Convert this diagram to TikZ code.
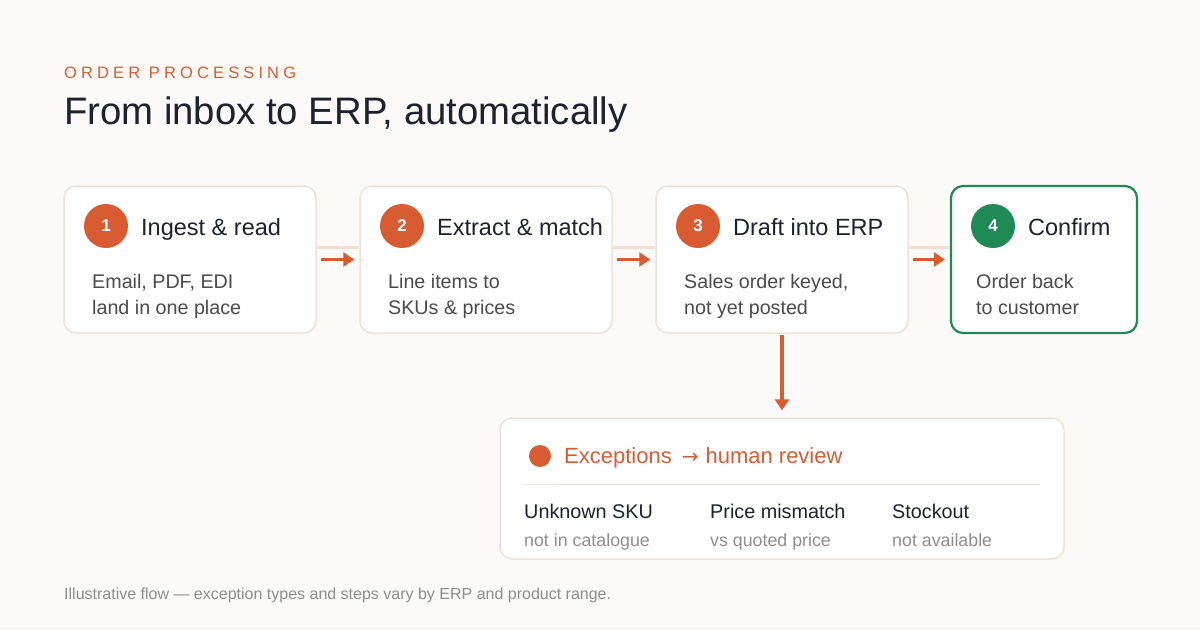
\documentclass[tikz,border=0pt]{standalone}
\usepackage{fontspec}
\setmainfont{Liberation Sans}
\newfontfamily\espacada[LetterSpace=25]{Liberation Sans}
\newfontfamily\setas{DejaVu Sans}
\usetikzlibrary{arrows.meta}

\definecolor{fundo}{HTML}{FCFAF8}
\definecolor{borda}{HTML}{F0E2D7}
\definecolor{pessego}{HTML}{F3DFD2}
\definecolor{laranja}{HTML}{D95B32}
\definecolor{verde}{HTML}{1F8A55}
\definecolor{escuro}{HTML}{1D2130}
\definecolor{cinza}{HTML}{4B4B4B}
\definecolor{claro}{HTML}{8E8E8E}

\begin{document}
\begin{tikzpicture}[x=1pt,y=-1pt]

    % Fundo e tamanho da figura
    \fill[fundo] (0,0) rectangle (1200,630);
    \useasboundingbox (0,0) rectangle (1200,630);

    % Altura das caixas e centro vertical da fileira
    \def\hcx{147pt}
    \def\ycx{259.5}

    % Estilos
    \tikzstyle{caixa} = [
      draw, fill=white, rectangle, rounded corners=12pt,
      minimum height=\hcx, inner sep=0pt
    ];
    \tikzstyle{numero} = [circle, minimum size=44pt, inner sep=0pt,
      text=white, font=\bfseries\fontsize{17}{20}\selectfont];
    \tikzstyle{titulo} = [anchor=base west, inner sep=0pt, text=escuro,
      font=\fontsize{23.5}{28}\selectfont];
    \tikzstyle{texto} = [anchor=base west, inner sep=0pt, text=cinza,
      font=\fontsize{19.7}{23}\selectfont];
    \tikzstyle{trilho} = [draw=pessego, line width=3pt];
    \tikzstyle{seta} = [draw=laranja, line width=3.5pt,
      -{Triangle[length=11pt,width=14pt]}];

    % Cabecalho
    \node[anchor=base west, inner sep=0pt, text=laranja,
      font=\espacada\fontsize{16.5}{20}\selectfont] (rotulo) at (64,78) {ORDER PROCESSING};
    \node[anchor=base west, inner sep=0pt, text=escuro,
      font=\fontsize{38.3}{44}\selectfont] (manchete) at (64,124) {From inbox to ERP, automatically};

    % Caixas das etapas (numero, titulo e duas linhas de texto)
    \foreach \n/\x/\w/\cor/\borda/\esp/\dx/\tit/\la/\lb in {
      1/64/252/laranja/borda/1.5/28/{Ingest \& read}/{Email, PDF, EDI}/{land in one place},
      2/360/252/laranja/borda/1.5/28/{Extract \& match}/{Line items to}/{SKUs \& prices},
      3/656/252/laranja/borda/1.5/28/{Draft into ERP}/{Sales order keyed,}/{not yet posted},
      4/951/186/verde/verde/2.2/25/{Confirm}/{Order back}/{to customer}}
    {
      \node[caixa, draw=\borda, line width=\esp pt, minimum width=\w pt] (c\n) at (\x+\w/2,\ycx) {};
      \node[numero, fill=\cor] (n\n) at (\x+42,226) {\n};
      \node[titulo] (t\n) at (\x+77,235) {\tit};
      \node[texto] (a\n) at (\x+\dx,288) {\la};
      \node[texto] (b\n) at (\x+\dx,314) {\lb};
    }

    % Trilho e setas entre as etapas
    \foreach \i/\j in {1/2,2/3,3/4}
    {
      \draw[trilho] ([yshift=12.5pt]c\i.east) -- ([yshift=12.5pt]c\j.west);
      \draw[seta] ([xshift=4pt]c\i.east) -- ([xshift=-5pt]c\j.west);
    }

    % Caixa de excecoes
    \node[caixa, draw=borda, line width=1.5pt, minimum width=564pt, minimum height=141pt] (ex) at (782,488.5) {};
    \node[circle, fill=laranja, minimum size=22pt, inner sep=0pt] (ponto) at (540,456) {};
    \node[titulo, text=laranja, font=\fontsize{22}{26}\selectfont] (extit) at (564,463)
      {Exceptions\hspace{10pt}{\setas\fontsize{20}{24}\selectfont →}\hspace{7pt}human review};

    % Linha separadora
    \coordinate (s1) at (524,484);
    \coordinate (s2) at (1040,484);
    \draw[borda, line width=1pt] (s1) -- (s2);

    % Tipos de excecao
    \foreach \k/\x/\tipo/\nota in {1/524/Unknown SKU/not in catalogue,
      2/710/Price mismatch/vs quoted price, 3/892/Stockout/not available}
    {
      \node[titulo, font=\fontsize{19.8}{23}\selectfont] (e\k) at (\x,518) {\tipo};
      \node[texto, text=claro, font=\fontsize{17.8}{21}\selectfont] (f\k) at (\x,546) {\nota};
    }

    % Seta da etapa 3 para as excecoes
    \draw[seta] ([yshift=-1pt]c3.south) -- ([yshift=7pt]ex.north);

    % Nota de rodape
    \node[anchor=base west, inner sep=0pt, text=claro, font=\fontsize{16}{19}\selectfont] (rodape) at (64,599)
      {Illustrative flow — exception types and steps vary by ERP and product range.};

\end{tikzpicture}
\end{document}
